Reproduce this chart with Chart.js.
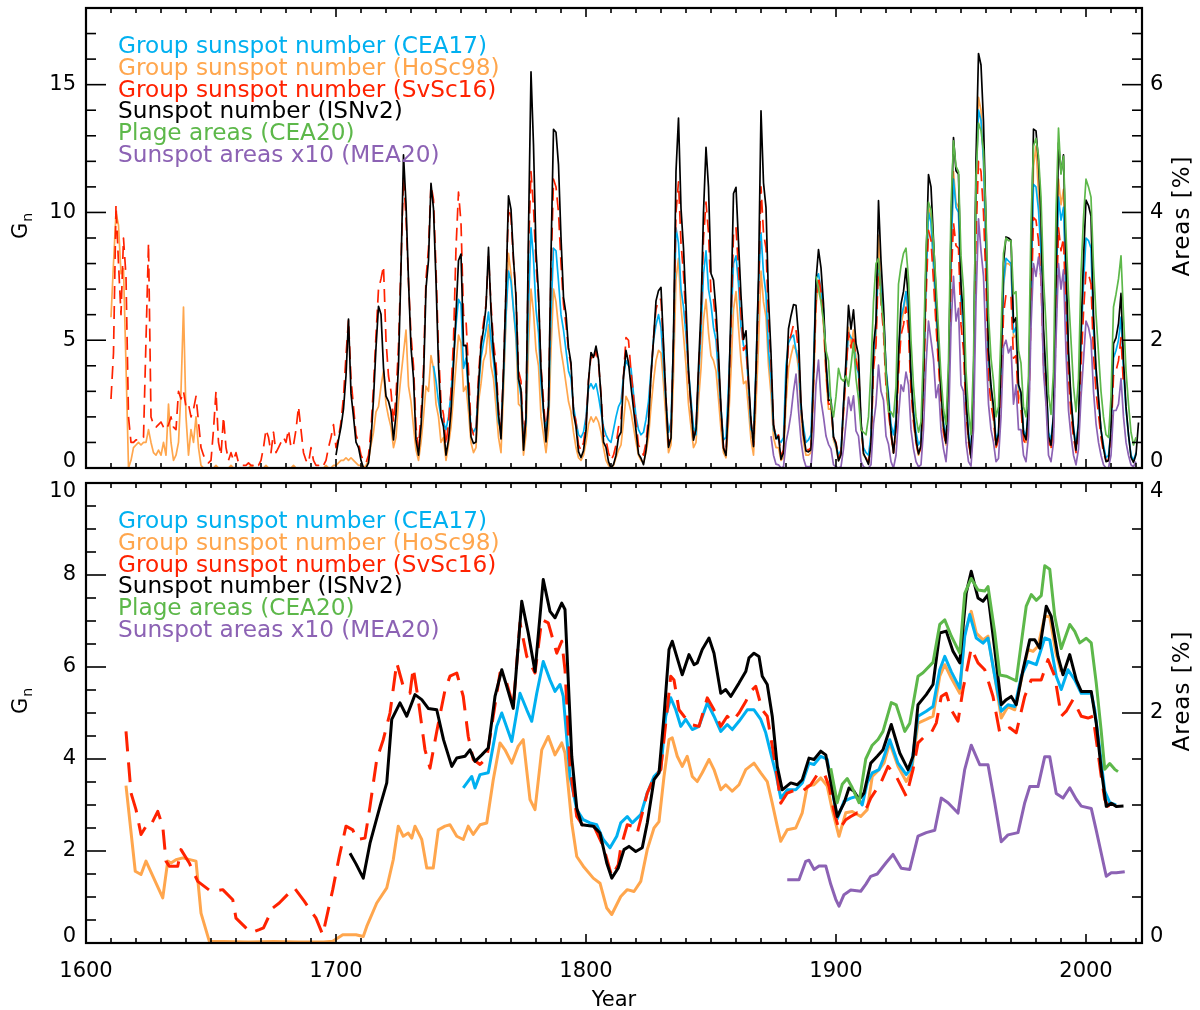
<!DOCTYPE html>
<html><head><meta charset="utf-8">
<script src="https://cdn.jsdelivr.net/npm/chart.js@4/dist/chart.umd.min.js"></script>
<style>
html,body{margin:0;padding:0;background:#fff;}
#wrap{position:relative;width:1200px;height:1010px;overflow:hidden;background:#fff;}
canvas{position:absolute;left:0;}
#c1{top:0;}
#c2{top:456px;}
</style></head><body>
<div id="wrap"><canvas id="c1" width="1200" height="476"></canvas><canvas id="c2" width="1200" height="554"></canvas></div>
<script>
// ---------------- DATA ----------------
const seriesLabels = ['Group sunspot number (CEA17)','Group sunspot number (HoSc98)','Group sunspot number (SvSc16)','Sunspot number (ISNv2)','Plage areas (CEA20)','Sunspot areas x10 (MEA20)'];
const xTickLabels = [1600, 1700, 1800, 1900, 2000];

// Top panel: annual values (Gn units; areas in %)
const isnStart = 1700;
const isnAnnual = [0.50,1.10,1.61,2.31,3.61,5.83,2.91,2.01,1.01,0.80,
0.30,0,0,0.20,1.10,2.71,4.72,6.33,6.02,3.92,
2.81,2.61,2.21,1.10,2.11,4.02,7.83,12.25,10.34,7.33,
4.72,3.51,1.10,0.50,1.61,3.42,7.03,8.13,11.14,10.14,
7.33,4.02,2.01,1.61,0.50,1.10,2.21,4.02,6.02,8.12,
8.37,4.79,4.80,3.08,1.22,0.96,1.02,3.25,4.78,5.42,
6.31,8.63,6.14,4.53,3.66,2.10,1.14,3.80,7.01,10.65,
10.12,8.19,6.67,3.49,3.07,0.70,1.99,9.29,15.50,12.64,
8.51,6.84,3.87,2.29,1.02,2.42,8.33,13.25,13.14,11.86,
9.02,6.69,6.02,4.71,4.11,2.14,1.61,0.64,0.41,0.68,
1.46,3.42,4.52,4.33,4.77,4.23,2.82,1.01,0.81,0.25,
0,0.14,0.50,1.22,1.40,3.55,4.60,4.11,3.19,2.32,
1.46,0.55,0.38,0.13,0.69,1.70,3.61,5.00,6.54,6.94,
7.07,4.87,2.67,0.81,1.17,5.17,11.61,13.69,10.16,8.61,
6.36,3.81,2.43,1.09,1.51,3.96,6.19,10.02,12.55,10.99,
7.61,7.35,6.19,4.46,2.35,0.77,0.49,2.61,6.29,10.74,
10.98,8.83,6.75,5.03,5.37,3.48,1.85,0.84,3.78,7.45,
13.98,11.16,10.19,6.63,4.49,1.70,1.14,1.25,0.34,0.60,
3.23,5.45,5.96,6.39,6.37,5.20,2.55,1.31,0.67,0.63,
0.71,3.58,7.33,8.55,7.83,6.42,4.18,2.64,2.67,1.22,
0.95,0.28,0.51,2.46,4.22,6.36,5.43,6.19,4.87,4.41,
1.86,0.57,0.36,0.14,0.97,4.76,5.72,10.46,8.11,6.37,
3.78,2.62,1.43,0.58,1.68,4.46,6.42,6.91,7.81,6.52,
3.58,2.11,1.12,0.55,0.88,3.63,8.00,11.48,11.00,8.92,
6.81,4.77,3.06,1.63,0.97,3.33,9.30,12.93,11.63,11.49,
7.16,5.92,2.71,1.21,0.40,3.27,12.09,16.22,15.77,13.56,
9.58,4.60,3.22,2.40,0.90,1.33,4.02,8.01,9.04,9.00,
8.92,5.69,5.88,3.26,2.96,1.36,1.11,2.37,7.89,13.26,
13.19,11.98,9.78,5.48,3.64,1.24,0.89,2.04,7.41,12.72,
11.55,12.25,8.01,4.58,2.70,1.51,0.70,1.74,5.32,8.21,
10.48,10.27,9.86,5.98,3.93,2.76,1.49,0.76,0.25,0.29,
1.50,4.87,5.09,5.66,6.83,4.20,2.40,1.31,0.42,0.22,
0.53,1.78];

const cea17Start = 1739;
const cea17Annual = [4.0,
3.4,2.6,2.0,1.8,1.5,2.0,2.9,4.3,5.6,6.6,
6.4,3.9,4.3,2.8,1.6,1.4,1.6,3.0,4.3,4.9,
5.4,6.1,5.0,4.2,3.2,1.8,1.5,3.5,6.0,7.7,
7.3,6.2,5.2,3.4,2.8,1.1,1.8,6.3,9.4,8.2,
6.2,5.3,3.3,2.2,1.5,2.3,6.0,8.6,8.5,7.3,
6.0,5.4,4.6,3.8,3.5,2.4,1.8,1.3,1.2,1.4,
2.0,3.1,3.3,3.1,3.3,2.8,2.2,1.6,1.3,1.1,
1.0,1.5,2.0,2.4,2.6,3.6,4.2,4.0,3.9,2.9,
2.0,1.5,1.3,1.4,1.9,2.6,3.8,5.0,5.6,6.0,
5.5,4.0,2.5,1.4,1.8,5.0,9.4,8.8,7.0,6.3,
5.2,3.8,2.7,1.6,1.3,3.5,5.3,7.6,8.5,7.0,
6.4,5.5,5.0,3.6,2.3,1.1,1.2,3.2,5.6,8.0,
8.3,7.2,5.5,4.8,4.6,3.2,1.5,1.4,4.0,7.2,
9.2,7.6,6.8,4.6,3.5,1.5,1.3,1.1,1.0,1.2,
4.0,4.9,5.1,5.2,4.6,4.2,2.2,1.6,1.0,1.1,
1.3,4.0,7.4,7.6,7.0,6.2,4.0,3.0,2.7,1.2,
0.9,0.5,0.7,2.5,3.9,5.3,5.1,5.0,4.0,3.7,
1.7,0.8,0.6,0.5,1.3,4.4,5.5,8.1,7.0,6.0,
3.9,2.9,1.7,1.3,1.9,4.4,5.9,6.3,6.9,6.0,
3.6,2.3,1.4,0.9,1.1,3.5,7.2,10.0,9.6,8.0,
6.2,4.5,3.0,1.8,1.1,3.2,8.3,11.3,10.2,10.0,
6.6,5.5,2.8,1.4,0.6,3.1,11.2,14.0,13.6,12.0,
8.4,4.3,3.1,2.4,1.1,1.4,3.8,7.2,8.2,8.1,
8.0,5.3,5.5,3.2,2.9,1.5,1.2,2.4,7.0,11.1,
11.0,10.1,8.4,5.0,3.5,1.4,1.1,2.1,6.6,10.6,
9.7,10.2,7.0,4.2,2.7,1.6,0.9,1.8,4.9,7.2,
9.0,8.9,8.6,5.4,3.7,2.6,1.5,0.9,0.4,0.5,
1.5,4.3,4.6,5.0,5.9,3.8,2.3,1.3,0.5,0.3,0.6];

const hosc98Start = 1610;
const hosc98Annual = [5.9,8.0,10.0,9.5,7.6,7.8,4.0,0.0,0.3,0.8,
0.9,1.0,0.9,1.0,1.0,1.5,1.0,0.6,0.5,0.7,
0.5,1.0,0.5,2.5,1.0,0.3,0.5,1.0,3.0,6.3,
2.0,0.5,1.5,1.0,2.0,0.8,0.1,0.0,0.0,0.0,
0,0,0.1,0,0,0,0,0,0.1,0,
0,0,0,0,0,0,0.1,0,0,0,
0,0,0.1,0,0,0,0,0,0,0,
0,0,0,0.1,0,0,0,0,0,0,
0,0,0,0,0,0,0.1,0,0,0.1,
0.1,0.2,0.3,0.3,0.4,0.3,0.4,0.3,0.2,0.1,
0.1,0.0,0.1,0.3,0.9,1.4,2.2,2.4,3.2,3.8,
2.5,2.0,1.6,0.8,1.2,2.6,3.6,4.5,5.4,3.2,
2.6,1.6,0.7,0.3,1.0,2.0,3.2,3.0,4.4,3.9,
2.5,2.0,1.0,1.2,0.3,0.9,1.6,2.8,4.0,5.2,
4.9,3.0,3.2,2.2,1.0,0.6,0.8,2.6,3.3,4.2,
4.5,5.6,4.0,3.5,2.4,1.2,0.6,3.0,5.8,8.4,
7.6,6.2,5.0,2.5,2.4,0.5,1.3,4.8,7.0,6.1,
4.6,4.0,2.0,1.3,0.6,1.5,4.6,7.0,6.5,5.5,
4.6,4.0,3.3,2.6,2.2,1.4,0.8,0.4,0.3,0.5,
1.0,1.7,2.0,1.8,2.0,1.8,1.4,0.8,0.3,0.1,
0.0,0.1,0.4,0.7,0.9,1.8,2.8,2.6,2.2,1.6,
1.0,0.5,0.3,0.2,0.6,1.2,2.4,3.4,4.2,4.6,
4.5,3.3,1.9,0.6,0.9,3.6,7.4,8.2,6.3,5.2,
4.0,2.5,1.6,0.8,1.0,2.6,3.9,5.8,6.6,5.3,
4.4,4.2,3.8,2.7,1.5,0.6,0.4,1.8,3.8,6.2,
6.9,5.5,4.2,3.3,3.4,2.3,1.1,0.5,2.5,4.8,
7.7,6.5,5.9,4.0,2.9,1.2,0.8,0.8,0.3,0.4,
2.5,3.9,4.4,4.8,4.6,3.9,2.0,1.0,0.5,0.5,
0.6,3.0,6.3,7.3,6.7,5.6,3.6,2.3,2.3,1.1,
0.8,0.3,0.5,2.2,3.7,5.5,4.8,5.4,4.3,3.9,
1.7,0.5,0.4,0.2,0.9,4.2,5.0,9.1,7.1,5.6,
3.4,2.3,1.3,0.6,1.5,3.9,5.6,6.1,6.9,5.8,
3.2,1.9,1.0,0.5,0.8,3.2,7.1,10.2,9.8,7.9,
6.0,4.2,2.7,1.4,0.9,3.0,8.3,11.6,10.4,10.2,
6.4,5.3,2.4,1.1,0.4,2.9,10.8,14.5,14.0,12.1,
8.5,4.1,2.9,2.1,0.8,1.2,3.6,7.1,8.0,8.0,
7.9,5.1,5.2,2.9,2.6,1.2,1.0,2.1,7.0,11.8,
12.6,10.7,8.7,4.9,3.2,1.1,0.8,1.8,6.6,11.3,
10.3,10.9,7.1,4.1,2.4,1.3];

const svsc16Start = 1610;
const svsc16Annual = [2.7,4.5,10.3,8.0,6.0,9.0,7.5,2.0,1.0,1.0,
1.1,1.1,1.1,1.2,5.0,8.8,2.0,1.7,1.6,1.7,
1.8,1.6,1.5,1.7,2.0,1.6,1.5,3.0,2.7,3.0,
2.4,2.5,2.0,2.3,2.8,1.8,0.8,0.5,0.3,0.2,
0.3,1.5,3.0,1.0,0.5,2.0,0.8,0.3,0.6,0.3,
0.6,0.2,0.1,0.1,0.1,0.2,0.1,0.1,0.2,0.1,
0.3,0.8,1.5,1.2,0.6,1.4,0.6,0.8,1.0,1.2,
1.0,1.5,0.8,0.9,1.5,2.4,1.5,0.6,0.3,0.2,
0.8,0.3,0.1,0.1,0.0,0.1,0.3,0.8,1.2,1.7,
0.8,1.2,1.8,2.8,4.4,5.8,3.5,2.4,1.3,1.0,
0.5,0.3,0.2,0.5,1.5,3.2,5.2,7.0,7.4,7.9,
5.0,3.6,3.0,1.8,2.8,4.8,8.0,11.4,9.8,7.3,
5.2,4.0,1.6,0.8,2.1,3.9,7.4,8.6,11.1,10.5,
7.8,4.6,2.6,2.1,0.9,1.8,3.0,5.0,8.6,10.8,
9.6,6.0,5.8,3.8,1.6,1.3,1.4,3.6,5.0,5.7,
6.4,8.3,6.4,4.9,4.1,2.3,1.4,3.9,7.0,10.2,
9.8,8.1,6.8,3.8,3.4,1.0,2.2,8.5,11.6,10.2,
8.0,6.6,4.0,2.6,1.3,2.6,7.6,11.3,11.0,10.0,
8.0,6.4,5.6,4.6,4.0,2.3,1.8,0.9,0.7,1.0,
1.7,3.4,4.4,4.2,4.6,4.1,2.9,1.3,1.1,0.6,
0.3,0.5,0.9,1.6,1.9,3.6,5.1,5.0,3.8,2.8,
1.8,0.9,0.7,0.5,1.0,2.0,3.6,5.1,6.2,6.6,
6.6,4.7,2.7,0.9,1.3,5.0,10.0,11.2,8.8,7.6,
5.8,3.6,2.4,1.2,1.5,3.7,5.8,9.0,10.4,9.2,
6.8,6.6,5.6,4.1,2.2,0.8,0.6,2.6,5.6,9.2,
9.4,7.8,6.0,4.6,4.8,3.2,1.8,0.9,3.6,6.8,
11.0,9.2,8.6,5.8,4.1,1.7,1.2,1.3,0.5,0.7,
3.1,4.9,5.2,5.6,5.4,4.6,2.4,1.3,0.8,0.7,
0.8,3.3,6.5,7.5,6.9,5.8,3.8,2.5,2.5,1.2,
1.0,0.4,0.6,2.2,3.7,5.3,4.7,5.2,4.2,3.8,
1.7,0.6,0.4,0.2,0.9,3.9,4.8,8.1,6.5,5.3,
3.2,2.2,1.3,0.6,1.5,3.7,5.2,5.6,6.3,5.3,
3.0,1.8,1.0,0.5,0.8,3.0,6.6,9.3,8.9,7.3,
5.6,4.0,2.6,1.4,0.9,2.8,7.2,9.6,8.7,8.6,
5.6,4.6,2.2,1.0,0.4,2.5,9.0,12.0,11.6,10.0,
7.2,3.5,2.5,1.9,0.8,1.1,3.0,6.0,6.8,6.8,
6.7,4.3,4.4,2.5,2.3,1.1,0.9,1.8,6.0,9.8,
9.7,8.9,7.3,4.1,2.8,1.0,0.7,1.6,5.6,9.4,
8.5,9.0,6.0,3.5,2.1,1.2,0.6,1.4,4.0,6.1,
7.7,7.6,7.2,4.4,3.0,2.1,1.2,0.6,0.3,0.3,
1.2,3.6,3.8,4.2,5.1,3.2];

const plageStart = 1892; // Areas [%]
const plageAnnual = [3.0,2.8,2.6,2.3,1.84,1.68,1.0,0.8,
1.12,1.56,1.4,1.36,1.44,1.28,1.6,1.96,1.4,1.08,
0.6,0.56,0.52,0.8,1.56,2.6,3.2,3.28,2.64,2.28,
1.48,0.88,0.88,0.8,1.28,2.88,3.16,3.36,3.44,2.96,
2.0,1.28,0.8,0.56,0.72,1.84,3.4,4.16,4.04,3.52,
2.88,2.16,1.44,0.92,0.68,1.68,4.08,5.12,4.72,4.64,
3.32,2.8,1.52,0.88,0.52,1.68,4.56,5.4,5.28,4.96,
3.92,2.4,1.72,1.36,0.8,0.96,2.12,3.36,3.6,3.56,
3.56,2.72,2.76,1.84,1.64,0.96,0.8,1.44,3.84,5.04,
5.16,4.88,4.24,2.96,2.24,1.16,0.84,1.52,4.0,5.32,
4.6,4.88,3.68,2.72,2.0,1.28,0.88,1.4,3.04,3.92,
4.52,4.4,4.24,3.16,2.4,1.8,1.2,0.8,0.52,0.48,
1.12,2.52,2.72,2.96,3.32,2.4,1.52,1.0,0.56,0.36,0.48];

const spotAreaStart = 1874; // Areas x10 [%]
const spotAreaAnnual = [0.5,0.2,0.06,0.05,0.0,0.02,
0.4,0.6,0.85,1.2,1.47,0.9,0.43,0.15,0.02,0.02,
0.03,0.5,1.3,1.69,1.06,0.8,0.5,0.37,0.3,0.05,
0.02,0.0,0.02,0.3,0.7,1.11,0.9,1.13,0.58,0.5,
0.1,0.02,0.0,0.0,0.05,0.69,1.0,1.61,1.2,1.06,
0.5,0.37,0.1,0.0,0.2,0.8,1.3,1.2,1.5,1.3,
0.6,0.3,0.1,0.02,0.05,0.6,1.6,2.3,2.0,1.7,
1.1,1.3,0.6,0.3,0.1,0.6,2.2,3.0,2.3,2.5,
1.3,1.2,0.4,0.1,0.03,0.6,2.6,3.9,3.4,3.0,
1.9,1.0,0.6,0.4,0.1,0.15,0.8,1.9,2.0,1.8,
1.9,1.0,1.3,0.6,0.6,0.2,0.1,0.5,2.2,3.2,
3.0,3.3,3.0,1.5,1.0,0.2,0.1,0.4,2.0,3.2,
2.8,3.1,1.8,0.9,0.5,0.2,0.05,0.3,1.1,1.7,
2.3,2.2,2.0,1.2,0.7,0.4,0.2,0.05,0.0,0.0,
0.2,0.9,0.9,1.0,1.4,0.8,0.4,0.2,0.05,0.02,0.1];

// Bottom panel: smoothed (running mean) values
const isnSmoothYears = [1705.6,1708,1710.9,1713.6,1717.6,1720.3,1722.3,1725.6,1728.3,1731.6,1734.3,1736.9,1740.3,1743,1746.3,1748.3,1751.6,1753.6,1755.6,1758.3,1760.9,1763.6,1766.3,1768.3,1770.9,1774.3,1776.9,1779.6,1782.9,1785.6,1787.6,1790.3,1791.6,1794.3,1796.3,1798.3,1802.9,1805.6,1808.3,1810.3,1812.9,1815.2,1817.2,1819.9,1822.5,1824.5,1827.2,1829.2,1831.2,1833.2,1834.5,1835.9,1838.5,1841.2,1843.2,1844.5,1846.5,1849.2,1851.2,1853.9,1855.9,1857.9,1861.2,1863.9,1865.2,1867.2,1869.2,1870.5,1872.5,1874.5,1876.5,1878.5,1881.9,1884.5,1886.5,1889.2,1891.2,1893.9,1895.9,1897.9,1900.5,1903.2,1905.2,1907.2,1909.2,1911.2,1913.9,1916.5,1918.8,1922.1,1925.5,1928.8,1930.8,1932.8,1936.1,1938.8,1941.5,1944.1,1946.8,1949.5,1952.1,1954.1,1956.8,1958.8,1960.8,1963.5,1966.1,1968.1,1970.1,1972.1,1974.8,1977.5,1979.5,1981.5,1984.1,1986.1,1988.8,1990.8,1993.5,1996.1,1998.1,2002.1,2004.1,2006.1,2008.1,2010.1,2012.1,2015];
const isnSmooth = [1.95,1.72,1.41,2.17,2.97,3.48,4.86,5.22,4.93,5.4,5.29,5.1,5.07,4.42,3.84,4.02,4.06,4.2,3.95,4.09,4.24,5.36,5.94,5.58,5.1,7.43,6.74,5.9,7.9,7.21,7.07,7.39,7.25,4.06,2.93,2.57,2.54,2.39,1.74,1.41,1.63,2.03,2.1,1.99,2.07,2.61,3.55,3.7,4.93,6.38,6.56,6.3,5.83,6.27,6.05,6.09,6.38,6.63,6.3,5.43,5.51,5.36,5.65,5.9,6.2,6.3,6.23,5.8,5.62,4.93,3.84,3.33,3.48,3.44,3.55,4.02,3.99,4.17,4.09,3.51,2.75,3.04,3.37,3.3,3.12,3.26,3.91,4.06,4.2,4.75,4.13,3.77,4.06,5.18,5.4,5.62,6.74,6.78,6.34,6.09,7.61,8.08,7.5,7.43,7.57,6.38,5.18,5.29,5.36,5.18,5.94,6.59,6.59,6.41,7.32,7.1,6.23,5.83,6.27,5.72,5.47,5.47,4.78,3.77,2.97,3.04,2.97,2.98];

const cea17SmoothYears = [1750.9,1754.3,1755.6,1757.6,1760.9,1764.3,1766.3,1770.3,1773.6,1776.3,1778.3,1780.3,1782.9,1785.6,1787.6,1789.6,1790.9,1793.6,1796.3,1798.9,1801.6,1804.3,1806.9,1809.6,1812.3,1813.9,1816.5,1818.5,1821.9,1824.5,1827.2,1829.9,1831.9,1833.9,1835.9,1837.9,1839.9,1842.5,1845.2,1848.5,1851.2,1853.9,1856.5,1858.5,1861.2,1864.5,1867.2,1869.9,1871.9,1873.9,1875.9,1877.9,1880.5,1883.9,1886.5,1889.2,1891.2,1893.9,1896.5,1898.5,1900.5,1903.2,1905.9,1908.5,1910.5,1912.5,1914.5,1917.2,1918.8,1921.5,1924.8,1928.1,1930.1,1932.8,1936.1,1938.8,1941.5,1943.5,1946.1,1949.5,1951.5,1953.5,1956.1,1958.8,1960.8,1963.5,1966.1,1968.8,1971.5,1974.1,1976.8,1980.1,1983.5,1985.5,1988.1,1990.1,1992.8,1995.5,1998.1,2002.1,2003.5,2005.5,2007.5,2009.5,2012];
const cea17Smooth = [3.37,3.62,3.37,3.66,3.7,4.71,5.0,4.38,5.43,5.07,4.82,5.43,6.12,5.72,5.47,5.62,5.36,3.62,2.9,2.68,2.61,2.57,2.25,2.07,2.32,2.61,2.75,2.61,2.79,3.26,3.62,3.77,4.93,5.33,5.07,4.71,4.86,4.64,4.71,5.22,4.93,4.6,4.75,4.64,4.82,5.07,5.07,4.86,4.57,4.13,3.7,3.15,3.33,3.33,3.48,3.91,3.88,4.06,3.99,3.33,2.7,3.08,3.15,3.19,3.0,3.48,3.7,3.77,3.99,4.42,3.91,3.66,3.8,4.93,5.04,5.14,5.94,6.23,5.9,5.54,6.67,7.14,6.63,6.52,6.63,5.8,5.04,5.18,5.14,5.8,6.12,6.05,6.63,6.59,5.8,5.51,5.94,5.72,5.43,5.43,5.07,4.2,3.3,3.05,3.0];

const hosc98SmoothYears = [1616,1619.7,1622,1624,1630.7,1632.7,1634,1636,1638.7,1644,1646,1649.3,1655,1665,1675,1685,1695,1698.7,1702.7,1708,1710.9,1712.3,1716.3,1720.3,1722.9,1724.9,1726.9,1728.9,1730.3,1731.6,1734.3,1736.3,1738.9,1740.9,1743.6,1745.6,1748.3,1750.9,1752.9,1754.9,1757.6,1760.3,1762.9,1765.6,1767.6,1770.3,1772.9,1774.9,1777.6,1779.6,1782.3,1784.9,1787.6,1790.3,1791.6,1794.3,1796.3,1798.9,1802.9,1805.6,1808.3,1810.3,1813.9,1816.5,1819.2,1821.9,1824.5,1827.2,1829.2,1831.2,1833.2,1834.5,1836.5,1838.5,1840.5,1842.5,1844.5,1846.5,1849.2,1851.2,1853.9,1855.9,1858.5,1861.2,1863.9,1867.2,1869.9,1872.5,1874.5,1876.5,1877.9,1880.5,1883.9,1886.5,1888.5,1891.2,1893.9,1896.5,1898.5,1901.2,1903.9,1906.5,1909.9,1912.5,1914.5,1917.2,1919.2,1921.5,1924.8,1928.1,1930.1,1932.8,1936.1,1938.8,1941.5,1943.5,1946.1,1949.5,1951.5,1954.1,1956.1,1958.8,1960.8,1963.5,1966.1,1968.8,1971.5,1974.1,1976.8,1978.8,1980.8,1983.5,1985.5,1988,1990];
const hosc98Smooth = [3.42,1.56,1.49,1.78,0.98,1.78,1.74,1.81,1.85,1.78,0.65,0.04,0.03,0.02,0.03,0.02,0.02,0.04,0.18,0.18,0.14,0.36,0.87,1.2,1.81,2.54,2.32,2.39,2.28,2.54,2.25,1.63,1.63,2.46,2.54,2.57,2.32,2.25,2.54,2.36,2.57,2.61,3.55,4.35,4.2,3.91,4.28,4.42,3.12,2.9,4.2,4.49,4.09,4.35,4.13,2.61,1.88,1.67,1.41,1.3,0.76,0.62,1.01,1.16,1.12,1.34,2.03,2.5,2.64,3.62,4.42,4.46,4.06,3.84,4.06,3.62,3.51,3.7,3.99,3.77,3.33,3.44,3.3,3.44,3.77,3.91,3.7,3.51,3.04,2.54,2.21,2.46,2.5,2.83,3.41,3.44,3.59,3.41,2.9,2.32,2.83,2.86,2.75,2.9,3.62,3.77,3.91,4.35,3.84,3.51,3.7,4.78,4.86,4.93,5.8,6.05,5.76,5.43,6.74,7.21,6.74,6.59,6.67,5.8,4.89,5.14,5.07,5.72,6.38,6.34,6.45,7.1,7.1,6.3,5.9];

const svsc16SmoothYears = [1616,1618,1620,1622,1624.7,1626,1628.7,1630.7,1632,1633.3,1636.7,1638,1641.3,1644.7,1650,1654.7,1658.7,1660,1666,1669.3,1671,1674.7,1677.3,1679.3,1683.3,1687.3,1692,1694.7,1698.7,1701.3,1704,1706.7,1708.3,1711.6,1713.6,1716.3,1718.9,1721.6,1724.3,1726.9,1729.6,1730.9,1732.9,1735.6,1737.6,1740.3,1743.6,1745.6,1748.3,1750.9,1752.9,1754.9,1757.6,1760.3,1762.9,1765.6,1768.3,1770.9,1773.6,1776.3,1779.6,1782.3,1784.9,1788.3,1790.3,1791.6,1793.6,1796.3,1798.9,1802.9,1806.9,1810.3,1812.9,1813.9,1816.5,1818.5,1820.5,1823.2,1824.5,1827.2,1829.9,1831.9,1833.9,1835.2,1837.2,1839.2,1841.9,1845.2,1848.5,1851.2,1853.9,1856.5,1858.5,1861.2,1863.9,1865.9,1867.9,1870.5,1872.5,1874.5,1876.5,1877.9,1880.5,1883.9,1886.5,1889.9,1892.5,1895.2,1897.2,1899.2,1901.2,1903.9,1905.9,1908.5,1910.5,1912.5,1913.9,1917.9,1920.8,1924.1,1928.1,1930.8,1932.8,1935.5,1938.1,1940.1,1942.1,1944.1,1946.1,1948.8,1950.8,1954.1,1956.8,1959.5,1962.8,1965.5,1969.5,1972.1,1975.5,1978.1,1982.1,1984.8,1987.5,1990.1,1992.1,1994.8,1998.1,2000.8,2002.8,2004.1,2006.1,2007.5,2009.5];
const svsc16Smooth = [4.6,3.26,2.9,2.36,2.6,2.57,2.86,2.54,1.78,1.67,1.67,2.03,1.74,1.34,1.12,1.16,0.94,0.54,0.22,0.29,0.33,0.76,0.87,0.98,1.2,0.91,0.54,0.18,1.16,1.88,2.54,2.46,2.25,2.28,2.97,3.99,4.42,5.0,6.09,5.58,5.43,5.98,5.29,4.2,3.8,4.6,5.5,5.8,5.87,5.36,4.49,3.99,3.88,4.02,4.93,5.87,5.65,5.14,6.96,6.23,5.87,7.03,6.96,6.3,6.56,5.94,3.84,2.75,2.54,2.57,2.1,1.45,1.7,2.07,2.57,2.54,2.39,2.97,3.26,3.59,3.77,4.78,5.8,5.72,5.07,4.93,4.75,4.71,5.33,5.07,4.71,4.93,4.82,5.0,5.25,5.47,5.58,5.07,4.93,4.28,3.62,3.04,3.26,3.33,3.3,3.44,3.66,3.7,3.41,2.86,2.46,2.68,2.75,2.83,2.83,2.97,3.15,3.48,3.84,3.62,3.19,3.77,4.35,4.49,4.57,4.78,5.36,5.43,5.07,4.82,5.51,6.41,6.09,5.94,5.36,4.57,4.68,4.57,5.36,5.72,5.72,6.16,5.8,4.93,5.04,5.29,4.93,4.89,4.93,4.42,3.62,3.12,2.9];

const plageSmoothYears = [1897.9,1900.5,1902.5,1904.5,1906.5,1909.2,1911.9,1914.5,1916.8,1918.8,1922.1,1924.1,1927.5,1929.5,1932.8,1934.8,1938.8,1941.5,1943.5,1946.1,1949.5,1951.5,1954.1,1956.8,1959.5,1960.8,1963.5,1965.5,1968.1,1970.1,1972.1,1976.1,1978.1,1980.1,1982.1,1983.5,1985.5,1987.5,1990.1,1993.5,1995.5,1997.5,2000.1,2002.1,2004.1,2006.1,2007.5,2009.5,2011.5,2012.8];
const plageSmooth = [1.52,1.22,1.38,1.43,1.35,1.22,1.6,1.72,1.77,1.84,2.09,2.07,1.84,1.91,2.32,2.35,2.44,2.77,2.81,2.67,2.52,3.04,3.17,3.07,3.06,3.1,2.7,2.33,2.32,2.3,2.28,2.93,3.03,2.98,3.02,3.28,3.25,2.84,2.56,2.77,2.71,2.61,2.65,2.61,2.26,1.84,1.51,1.56,1.51,1.49];

const spotAreaSmoothYears = [1880.5,1885.2,1887.9,1889.2,1891.2,1893.2,1895.9,1897.9,1899.9,1901.2,1903.2,1905.9,1909.9,1911.9,1913.9,1916.5,1920.1,1922.8,1926.1,1929.5,1932.8,1936.1,1939.5,1942.1,1944.8,1948.8,1951.5,1954.1,1957.5,1960.8,1963.5,1966.1,1968.8,1972.8,1975.5,1977.5,1980.8,1983.5,1985.5,1988.1,1990.8,1993.5,1996.1,1998.1,2002.1,2004.1,2006.1,2008.1,2010.1,2012.1,2015.5];
const spotAreaSmooth = [0.55,0.55,0.71,0.72,0.64,0.67,0.67,0.51,0.38,0.32,0.42,0.46,0.45,0.51,0.58,0.6,0.7,0.77,0.65,0.64,0.93,0.96,0.98,1.26,1.22,1.13,1.51,1.72,1.55,1.55,1.22,0.88,0.94,0.96,1.22,1.36,1.36,1.62,1.62,1.3,1.26,1.35,1.25,1.19,1.17,0.98,0.78,0.58,0.61,0.61,0.62];

// ---------------- STYLE ----------------
const colors = ['#00B0F0','#FFA64D','#FF2200','#000000','#5DB84A','#8C62B4'];
const FONT = "'DejaVu Sans', 'Liberation Sans', sans-serif";

function annual(start, vals){ return vals.map((v,i)=>({x:start+i, y:v})); }
function pairs(xs, ys){ return xs.map((x,i)=>({x:x, y:ys[i]})); }

function makeDatasets(datas, lw, dash){
  const axes = ['y','y','y','y','y2','y2'];
  const order = [4,5,3,2,1,0];
  return datas.map((d,i)=>({
    label: seriesLabels[i], data: d, yAxisID: axes[i], order: order[i],
    borderColor: colors[i], backgroundColor: colors[i], borderWidth: lw,
    borderDash: i===2 ? dash : [], pointRadius: 0, tension: 0, fill: false,
    borderJoinStyle: 'round'
  }));
}

const framePlugin = {
  id: 'frame',
  afterDatasetsDraw(chart, args, o){
    const {ctx, chartArea:a, scales} = chart;
    ctx.save();
    ctx.strokeStyle = '#000';
    ctx.lineWidth = 1.6;
    const seg = (x1,y1,x2,y2)=>{ctx.beginPath();ctx.moveTo(x1,y1);ctx.lineTo(x2,y2);ctx.stroke();};
    const xs = scales.x;
    for (let v = 1600; v <= xs.max + 1e-6; v += 10){
      const p = xs.getPixelForValue(v);
      const L = (v % 100 === 0) ? 9 : 5;
      seg(p, a.bottom, p, a.bottom - L);
      seg(p, a.top, p, a.top + L);
    }
    const ys = scales.y;
    const n = Math.round((ys.max - ys.min)/o.yMinor);
    for (let k=0;k<=n;k++){
      const v = ys.min + k*o.yMinor;
      const r = v/o.yMajor; const major = Math.abs(r - Math.round(r)) < 1e-6;
      const p = ys.getPixelForValue(v);
      seg(a.left, p, a.left + (major?20:10), p);
    }
    const rs = scales.y2;
    const m = Math.floor((rs.max - rs.min)/o.rMinor + 1e-6);
    for (let k=0;k<=m;k++){
      const v = rs.min + k*o.rMinor;
      const r = v/o.rMajor; const major = Math.abs(r - Math.round(r)) < 1e-6;
      const p = rs.getPixelForValue(v);
      seg(a.right, p, a.right - (major?20:10), p);
    }
    ctx.lineWidth = 2.2;
    ctx.strokeRect(a.left, a.top, a.right - a.left, a.bottom - a.top);

    // legend (coloured text only)
    ctx.font = '23.2px ' + FONT;
    ctx.textAlign = 'left'; ctx.textBaseline = 'alphabetic';
    chart.data.datasets.forEach((d,i)=>{
      ctx.fillStyle = d.borderColor;
      ctx.fillText(d.label, 118, a.top + 45 + i*21.8);
    });

    // axis titles
    ctx.fillStyle = '#000';
    const cy = (a.top + a.bottom)/2;
    ctx.save();
    ctx.translate(27, cy - 12);
    ctx.rotate(-Math.PI/2);
    ctx.font = '21px ' + FONT;
    const gw = ctx.measureText('G').width;
    ctx.font = '14px ' + FONT;
    const nw = ctx.measureText('n').width;
    const x0 = -(gw + nw + 1)/2;
    ctx.font = '21px ' + FONT;
    ctx.textAlign = 'left';
    ctx.fillText('G', x0, 0);
    ctx.font = '14px ' + FONT;
    ctx.fillText('n', x0 + gw + 1, 5);
    ctx.restore();
    ctx.save();
    ctx.translate(1189, cy - 22);
    ctx.rotate(-Math.PI/2);
    ctx.font = '23px ' + FONT;
    try { ctx.letterSpacing = '1px'; } catch(e) {}
    ctx.textAlign = 'center';
    ctx.fillText('Areas [%]', 0, 0);
    ctx.restore();
    if (o.xTitle){
      ctx.font = '21px ' + FONT;
      ctx.textAlign = 'center';
      ctx.fillText(o.xTitle, (a.left + a.right)/2, a.bottom + 63);
    }
    ctx.restore();
  }
};

function tickFont(){ return {family: FONT, size: 21}; }

// keep the end labels of the vertical axes inside the frame (as in the original)
function nudgeEndLabels(s){
  if (s._nudged) return;
  s._nudged = true;
  const orig = s.getLabelItems.bind(s);
  s.getLabelItems = function(ca){
    const items = orig(ca);
    if (items && !items._adj){
      items._adj = true;
      items.forEach((it, i)=>{
        const t = s.ticks[i];
        if (!t || !it.options || !it.options.translation) return;
        if (Math.abs(t.value - s.min) < 1e-9) it.options.translation[1] -= 6;
        else if (Math.abs(t.value - s.max) < 1e-9) it.options.translation[1] += 9;
      });
    }
    return items;
  };
}

function makeOptions(p){
  return {
    responsive: false, animation: false, devicePixelRatio: 1,
    layout: {autoPadding: false, padding: {top: p.top, left: 0, right: 0, bottom: 0}},
    plugins: {legend: {display: false}, tooltip: {enabled: false}, frame: p.frame},
    scales: {
      x: {
        type: 'linear', min: 1600, max: 2022.4,
        grid: {display: false, drawTicks: false}, border: {display: false},
        ticks: {display: p.xLabels, stepSize: 100, includeBounds: false, autoSkip: false, maxRotation: 0, padding: 16,
                font: tickFont(), color: '#000',
                callback: (v)=> xTickLabels.includes(v) ? String(v) : ''},
        afterFit(s){ s.height = p.xHeight; s.paddingLeft = 0; s.paddingRight = 0; }
      },
      y: {
        type: 'linear', position: 'left', min: 0, max: p.yMax,
        grid: {display: false, drawTicks: false}, border: {display: false},
        ticks: {stepSize: p.yStep, includeBounds: false, padding: 10, font: tickFont(), color: '#000'},
        afterFit(s){ s.width = 86; s.paddingTop = 0; s.paddingBottom = 0; },
        afterUpdate: nudgeEndLabels
      },
      y2: {
        type: 'linear', position: 'right', min: 0, max: p.rMax,
        grid: {display: false, drawTicks: false}, border: {display: false},
        ticks: {stepSize: 2, includeBounds: false, padding: 8, font: tickFont(), color: '#000'},
        afterFit(s){ s.width = 58; s.paddingTop = 0; s.paddingBottom = 0; },
        afterUpdate: nudgeEndLabels
      }
    }
  };
}

Chart.register(framePlugin);

new Chart(document.getElementById('c1'), {
  type: 'line',
  data: {datasets: makeDatasets([
    annual(cea17Start, cea17Annual),
    annual(hosc98Start, hosc98Annual),
    annual(svsc16Start, svsc16Annual),
    annual(isnStart, isnAnnual),
    annual(plageStart, plageAnnual),
    annual(spotAreaStart, spotAreaAnnual)
  ], 1.7, [13, 7])},
  options: makeOptions({top: 8, xHeight: 8, xLabels: false, yMax: 18, yStep: 5, rMax: 7.2,
    frame: {yMajor: 5, yMinor: 1, rMajor: 2, rMinor: 0.4}})
});

new Chart(document.getElementById('c2'), {
  type: 'line',
  data: {datasets: makeDatasets([
    pairs(cea17SmoothYears, cea17Smooth),
    pairs(hosc98SmoothYears, hosc98Smooth),
    pairs(svsc16SmoothYears, svsc16Smooth),
    pairs(isnSmoothYears, isnSmooth),
    pairs(plageSmoothYears, plageSmooth),
    pairs(spotAreaSmoothYears, spotAreaSmooth)
  ], 3, [20, 11])},
  options: makeOptions({top: 27, xHeight: 67, xLabels: true, yMax: 10, yStep: 2, rMax: 4,
    frame: {yMajor: 2, yMinor: 0.5, rMajor: 2, rMinor: 0.4, xTitle: 'Year'}})
});
</script>
</body></html>
